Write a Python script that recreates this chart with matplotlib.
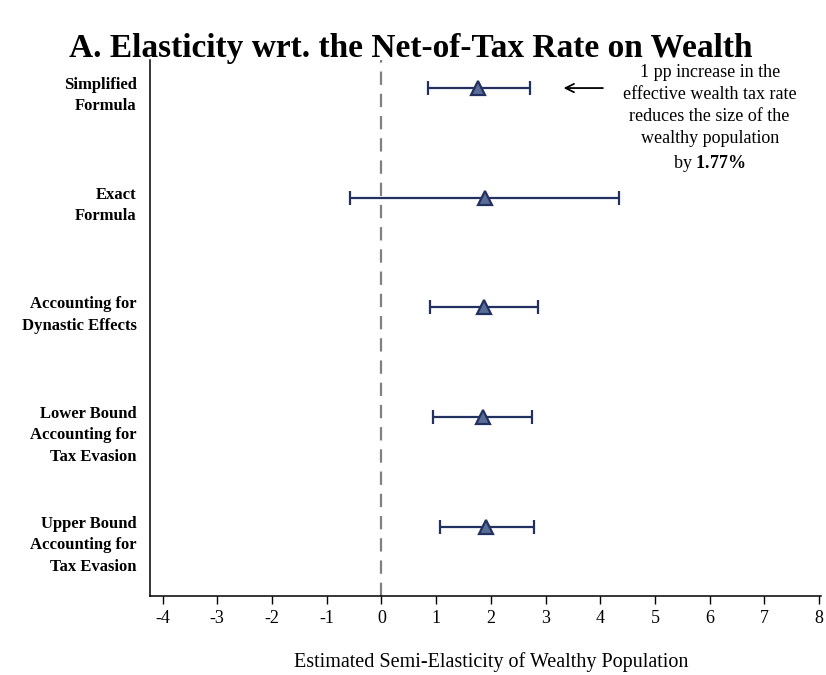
import matplotlib
matplotlib.use('Agg')
import matplotlib.pyplot as plt
import numpy as np

plt.rcParams['font.family'] = ['Liberation Serif', 'DejaVu Serif']
plt.rcParams['mathtext.fontset'] = 'custom'
plt.rcParams['mathtext.rm'] = 'Liberation Serif'
plt.rcParams['mathtext.bf'] = 'Liberation Serif:bold'

labels = ['Simplified\nFormula',
          'Exact\nFormula',
          'Accounting for\nDynastic Effects',
          'Lower Bound\nAccounting for\nTax Evasion',
          'Upper Bound\nAccounting for\nTax Evasion']
estimates = [1.77, 1.89, 1.88, 1.85, 1.92]
ci_low = [0.86, -0.57, 0.89, 0.95, 1.07]
ci_high = [2.71, 4.34, 2.87, 2.75, 2.79]
xticks = list(range(-4, 9))

navy = '#22315f'
fill = '#5a6d99'

fig = plt.figure(figsize=(8.26, 6.75), dpi=100)
ax = fig.add_axes([0.1816, 0.117, 0.812, 0.794])

ypos = np.arange(len(labels))
est = np.array(estimates)
err = [est - np.array(ci_low), np.array(ci_high) - est]

ax.axvline(0, color='#808080', ls=(0, (6, 4)), lw=1.6, zorder=1)
ax.errorbar(est, ypos, xerr=err, fmt='none', ecolor=navy, elinewidth=1.6,
            capsize=5, capthick=1.6, zorder=2)
ax.plot(est, ypos, ls='none', marker='^', ms=10, mfc=fill, mec=navy,
        mew=1.6, zorder=3)

ax.set_ylim(len(labels) - 1 + 0.63, -0.255)
ax.set_xlim(-4.23, 8.03)
ax.set_xticks(xticks)
ax.set_xticklabels([str(t) for t in xticks], fontsize=13)
ax.set_yticks([])
ax.tick_params(axis='x', direction='out', length=6, width=1, pad=4)
for s in ['top', 'right']:
    ax.spines[s].set_visible(False)
ax.spines['left'].set_linewidth(1.1)
ax.spines['bottom'].set_linewidth(1.1)

for y, lab in zip(ypos, labels):
    ax.annotate(lab, xy=(-0.02, y), xycoords=('axes fraction', 'data'),
                xytext=(0, 8), textcoords='offset points',
                ha='right', va='top', fontsize=12, fontweight='bold',
                linespacing=1.45)

ax.set_xlabel('Estimated Semi-Elasticity of Wealthy Population', fontsize=14.5)
ax.xaxis.set_label_coords(0.509, -0.104)

fig.text(0.497, 1 - 57 / 675, 'A. Elasticity wrt. the Net-of-Tax Rate on Wealth',
         ha='center', va='baseline', fontsize=24, fontweight='bold')

ax.annotate('', xy=(3.28, 0), xytext=(4.1, 0),
            arrowprops=dict(arrowstyle='->', color='black', lw=1.3,
                            mutation_scale=15))
ax.text(6.0, -0.215,
        '1 pp increase in the\neffective wealth tax rate\n'
        'reduces the size of the\nwealthy population\nby $\\mathbf{1.77\\%}$',
        ha='center', va='top', fontsize=13, linespacing=1.38)

fig.savefig('out.png', dpi=100)
